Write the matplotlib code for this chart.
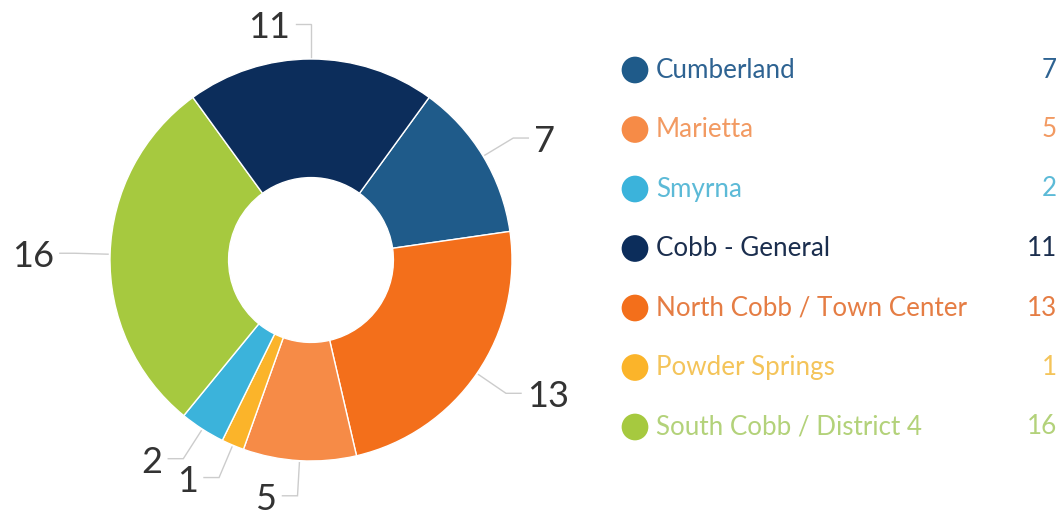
import numpy as np
import matplotlib
matplotlib.use("Agg")
import matplotlib.pyplot as plt

categories = ["Cumberland", "Marietta", "Smyrna", "Cobb - General",
              "North Cobb / Town Center", "Powder Springs", "South Cobb / District 4"]
values = [7, 5, 2, 11, 13, 1, 16]
slice_colors = ["#1f5b8a", "#f68b47", "#3bb3db", "#0c2d5b", "#f36f1b", "#fbb42a", "#a6c93f"]
text_colors = ["#2e6392", "#f29a62", "#5cbad7", "#1b2e4e", "#e57d44", "#f4c45a", "#b3d27a"]
pie_order = [0, 4, 1, 5, 2, 6, 3]  # clockwise drawing order

W, H = 1062, 517
CX, CY, R = 311, 260, 201  # pixel layout of the donut

plt.rcParams['font.family'] = ['Lato', 'DejaVu Sans']
fig = plt.figure(figsize=(W / 100, H / 100), dpi=100)
ax = fig.add_axes([0, 0, 1, 1])

pv = [values[i] for i in pie_order]
pc = [slice_colors[i] for i in pie_order]
wedges, _ = ax.pie(pv, colors=pc, startangle=54, counterclock=False, radius=1.0,
                   wedgeprops=dict(width=0.59, edgecolor="white", linewidth=1.0))
ax.set_xlim(-CX / R, (W - CX) / R)
ax.set_ylim(-(H - CY) / R, CY / R)
ax.set_aspect('equal')
ax.axis('off')

for w, v in zip(wedges, pv):
    mid = np.deg2rad((w.theta1 + w.theta2) / 2)
    d = np.array([np.cos(mid), np.sin(mid)])
    side = 1 if d[0] > 0.01 else -1
    p0 = d * 1.01
    p1 = d * 1.175
    p2 = p1 + np.array([side * 0.075, 0])
    ax.plot([p0[0], p1[0], p2[0]], [p0[1], p1[1], p2[1]], color="#cccccc", lw=1.0,
            solid_joinstyle='miter')
    ax.text(p2[0] + side * 0.03, p2[1] - 0.07, str(v), ha='left' if side > 0 else 'right',
            va='baseline', fontsize=26, color="#333333")

# legend
lx = fig.add_axes([0, 0, 1, 1])
lx.set_xlim(0, W)
lx.set_ylim(H, 0)
lx.axis('off')
y0, step = 70, 59.5
for i, (c, v) in enumerate(zip(categories, values)):
    y = y0 + i * step
    lx.scatter([635], [y], s=370, color=slice_colors[i], edgecolors='none')
    lx.text(656, y, c, ha='left', va='center', fontsize=18.7, color=text_colors[i])
    lx.text(1057, y, str(v), ha='right', va='center', fontsize=18.7, color=text_colors[i])

fig.savefig("out.png", dpi=100)
